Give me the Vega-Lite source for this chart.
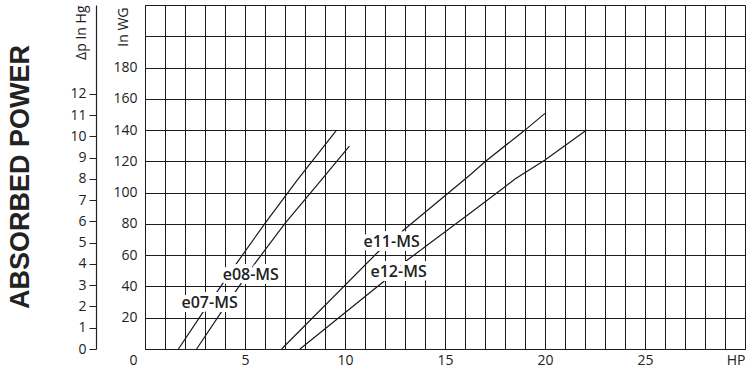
{
  "$schema": "https://vega.github.io/schema/vega-lite/v6.json",
  "width": 600,
  "height": 344,
  "autosize": "none",
  "padding": {"left": 145, "top": 5, "right": 7, "bottom": 21},
  "background": "white",
  "title": {"text": "ABSORBED POWER", "orient": "left", "anchor": "middle", "font": "Liberation Sans", "fontSize": 27, "fontWeight": "bold", "color": "#222222", "offset": 35},
  "config": {"view": {"stroke": null}},
  "datasets": {
    "curves": [
      {"model": "e07-MS", "hp": 1.67, "wg": 0},
      {"model": "e07-MS", "hp": 2.92, "wg": 23.9},
      {"model": "e07-MS", "hp": 4.58, "wg": 54.8},
      {"model": "e07-MS", "hp": 6.0, "wg": 80.4},
      {"model": "e07-MS", "hp": 7.62, "wg": 108.2},
      {"model": "e07-MS", "hp": 9.58, "wg": 140},
      {"model": "e08-MS", "hp": 2.58, "wg": 0},
      {"model": "e08-MS", "hp": 3.83, "wg": 23.9},
      {"model": "e08-MS", "hp": 5.5, "wg": 54.8},
      {"model": "e08-MS", "hp": 7.0, "wg": 80.4},
      {"model": "e08-MS", "hp": 8.83, "wg": 108.3},
      {"model": "e08-MS", "hp": 10.22, "wg": 129.8},
      {"model": "e11-MS", "hp": 6.83, "wg": 0},
      {"model": "e11-MS", "hp": 11.75, "wg": 63.3},
      {"model": "e11-MS", "hp": 12.83, "wg": 75},
      {"model": "e11-MS", "hp": 16.25, "wg": 111.3},
      {"model": "e11-MS", "hp": 17.0, "wg": 119.8},
      {"model": "e11-MS", "hp": 18.58, "wg": 135.8},
      {"model": "e11-MS", "hp": 19.0, "wg": 140},
      {"model": "e11-MS", "hp": 20.0, "wg": 150.7},
      {"model": "e12-MS", "hp": 7.75, "wg": 0},
      {"model": "e12-MS", "hp": 11.92, "wg": 43},
      {"model": "e12-MS", "hp": 13.0, "wg": 55.8},
      {"model": "e12-MS", "hp": 16.25, "wg": 86.8},
      {"model": "e12-MS", "hp": 18.0, "wg": 103.8},
      {"model": "e12-MS", "hp": 18.5, "wg": 108.7},
      {"model": "e12-MS", "hp": 20.0, "wg": 120.9},
      {"model": "e12-MS", "hp": 22.08, "wg": 140}
    ],
    "labels": [
      {"model": "e07-MS", "hp": 3.23, "wg": 29.7},
      {"model": "e08-MS", "hp": 5.29, "wg": 47.3},
      {"model": "e11-MS", "hp": 12.33, "wg": 68.6},
      {"model": "e12-MS", "hp": 12.68, "wg": 49.4}
    ],
    "hg": [{"hg": 0}]
  },
  "layer": [
    {
      "encoding": {
        "x": {
          "field": "hp", "type": "quantitative",
          "scale": {"domain": [0, 30], "nice": false, "zero": true},
          "axis": {
            "title": null,
            "values": [0,1,2,3,4,5,6,7,8,9,10,11,12,13,14,15,16,17,18,19,20,21,22,23,24,25,26,27,28,29,30],
            "grid": true, "gridColor": "#1a1a1a", "gridOpacity": 1, "gridWidth": 1,
            "ticks": false,
            "domain": true, "domainColor": "#1a1a1a",
            "labelExpr": "datum.value == 30 ? 'HP' : (datum.value % 5 == 0 ? datum.label : '')",
            "labelAlign": {"condition": {"test": "datum.value == 30", "value": "right"}, "value": "center"},
            "labelOffset": {"condition": {"test": "datum.value == 0", "value": -12}, "value": 0},
            "labelFont": "Open Sans", "labelFontSize": 14, "labelColor": "#222222",
            "labelPadding": 4, "labelOverlap": false, "labelFlush": false
          }
        },
        "y": {
          "field": "wg", "type": "quantitative",
          "scale": {"domain": [0, 220], "nice": false, "zero": true},
          "axis": {
            "orient": "left",
            "values": [0,20,40,60,80,100,120,140,160,180,200,220],
            "grid": true, "gridColor": "#1a1a1a", "gridOpacity": 1, "gridWidth": 1,
            "ticks": false,
            "domain": true, "domainColor": "#1a1a1a",
            "labelExpr": "datum.value >= 20 && datum.value <= 180 ? datum.label : ''",
            "labelFont": "Open Sans", "labelFontSize": 14, "labelColor": "#222222",
            "labelPadding": 8, "labelOverlap": false, "labelFlush": false,
            "title": "In WG",
            "titleFont": "Open Sans", "titleFontSize": 14, "titleFontWeight": "normal", "titleColor": "#222222",
            "titleAngle": 270, "titleAlign": "right", "titleBaseline": "middle",
            "titleX": -22, "titleY": 2
          }
        }
      },
      "layer": [
        {
          "data": {"name": "curves"},
          "mark": {"type": "line", "color": "#1a1a1a", "strokeWidth": 1.2},
          "encoding": {
            "detail": {"field": "model"},
            "order": {"field": "hp"}
          }
        },
        {
          "data": {"name": "labels"},
          "mark": {"type": "text", "font": "Open Sans", "fontSize": 16, "fontWeight": 600, "fill": "white", "stroke": "white", "strokeWidth": 8, "strokeJoin": "round", "baseline": "middle", "align": "center"},
          "encoding": {
            "text": {"field": "model"}
          }
        },
        {
          "data": {"name": "labels"},
          "mark": {"type": "text", "font": "Open Sans", "fontSize": 16, "fontWeight": 600, "fill": "#222222", "baseline": "middle", "align": "center"},
          "encoding": {
            "text": {"field": "model"}
          }
        }
      ]
    },
    {
      "data": {"name": "hg"},
      "mark": {"type": "point", "opacity": 0},
      "encoding": {
        "y": {
          "field": "hg", "type": "quantitative",
          "scale": {"domain": [0, 16.176], "nice": false, "zero": true},
          "axis": {
            "orient": "left",
            "offset": 49,
            "values": [0,1,2,3,4,5,6,7,8,9,10,11,12],
            "grid": false,
            "ticks": true, "tickSize": 7, "tickColor": "#222222", "tickWidth": 1,
            "domain": true, "domainColor": "#222222", "domainWidth": 1.2,
            "labelFont": "Open Sans", "labelFontSize": 14, "labelColor": "#222222",
            "labelPadding": 3, "labelOverlap": false, "labelFlush": false,
            "title": "Δp In Hg",
            "titleFont": "Open Sans", "titleFontSize": 14, "titleFontWeight": "normal", "titleColor": "#222222",
            "titleAngle": 270, "titleAlign": "right", "titleBaseline": "middle",
            "titleX": -15, "titleY": 0
          }
        }
      }
    }
  ],
  "resolve": {"scale": {"y": "independent"}, "axis": {"y": "independent"}}
}
